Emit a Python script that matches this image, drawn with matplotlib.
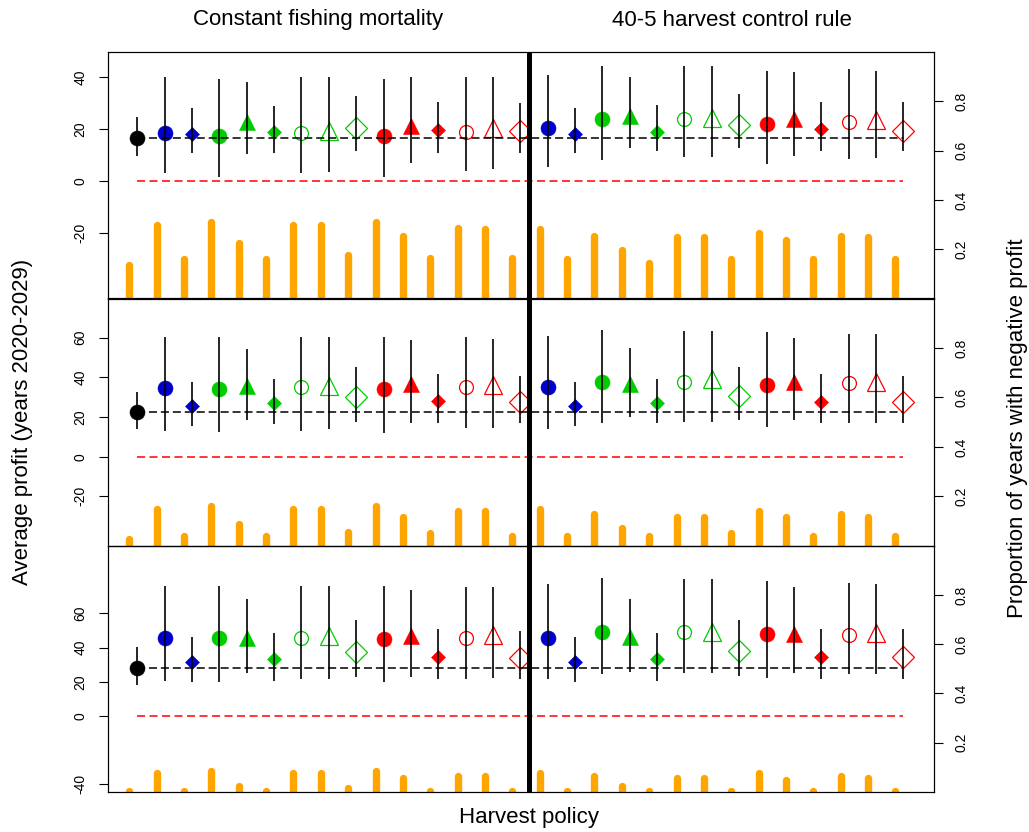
"""
Average profit and proportion of years with negative profit, by harvest policy.

Three stacked panels; left axis = average profit with interval, right axis =
proportion of years with negative profit (orange spikes).
"""

import numpy as np
import matplotlib
matplotlib.use("Agg")
import matplotlib.pyplot as plt

plt.rcParams["font.family"] = ["Liberation Sans", "DejaVu Sans"]
plt.rcParams["lines.scale_dashes"] = False

# ---- data -----------------------------------------------------------------
policy_x = np.arange(1, 30)

# colour group and symbol of each of the 29 policies
policy_group = (["k"] + ["b", "b"] + ["g"] * 6 + ["r"] * 6
                + ["b", "b"] + ["g"] * 6 + ["r"] * 6)
policy_symbol = (["o"] + ["o", "d"] + ["o", "^", "d", "oo", "^o", "Do"] * 2
                 + ["o", "d"] + ["o", "^", "d", "oo", "^o", "Do"] * 2)

mean_top = [16.8, 18.7, 18.1, 17.4, 22.9, 18.8, 18.5, 19.5, 20.4, 17.4, 21.4, 19.6, 19.1, 20.4, 19.3,
            20.4, 18.2, 23.8, 25.1, 18.8, 23.8, 24.5, 21.7, 22.0, 24.0, 20.0, 22.7, 23.6, 19.5]
lo_top = [9.8, 3.1, 11.0, 1.8, 10.5, 11.0, 3.3, 3.7, 11.8, 1.5, 7.2, 11.0, 4.1, 4.7, 11.0,
          5.4, 11.0, 8.2, 12.7, 11.8, 9.2, 9.2, 12.7, 6.5, 9.8, 11.8, 8.5, 8.8, 11.8]
hi_top = [24.8, 39.9, 28.3, 39.2, 38.1, 29.0, 39.9, 39.9, 32.9, 39.2, 39.9, 30.6, 39.9, 39.9, 30.0,
          40.9, 28.3, 44.3, 39.9, 29.3, 44.3, 44.3, 33.4, 42.5, 41.9, 30.6, 43.2, 42.5, 30.6]
neg_top = [0.136, 0.298, 0.159, 0.309, 0.226, 0.159, 0.298, 0.298, 0.176, 0.309, 0.255, 0.166, 0.287, 0.280, 0.166,
           0.280, 0.159, 0.255, 0.196, 0.146, 0.251, 0.251, 0.159, 0.267, 0.237, 0.159, 0.255, 0.251, 0.159]

mean_mid = [22.7, 34.8, 25.7, 34.1, 35.8, 26.9, 35.0, 35.6, 30.2, 34.0, 36.6, 28.1, 35.0, 36.0, 27.7,
            35.0, 25.7, 37.8, 36.5, 26.9, 37.8, 39.0, 30.6, 36.1, 37.8, 27.7, 37.0, 37.5, 27.7]
lo_mid = [13.8, 13.1, 15.6, 12.3, 18.5, 16.3, 13.1, 13.8, 17.6, 11.8, 16.8, 16.8, 14.6, 14.6, 16.8,
          13.8, 15.6, 16.8, 19.8, 16.8, 17.6, 17.6, 18.5, 14.8, 18.5, 16.8, 16.8, 16.8, 16.8]
hi_mid = [32.4, 60.1, 37.5, 60.1, 54.1, 39.1, 60.1, 60.1, 45.0, 60.1, 58.8, 41.5, 60.1, 59.3, 40.7,
          60.8, 37.5, 63.8, 54.9, 39.1, 63.3, 63.3, 45.3, 62.7, 59.6, 41.5, 61.8, 61.8, 40.7]
neg_mid = [0.027, 0.148, 0.040, 0.162, 0.089, 0.040, 0.148, 0.148, 0.058, 0.162, 0.119, 0.054, 0.143, 0.143, 0.040,
           0.148, 0.040, 0.129, 0.071, 0.040, 0.119, 0.119, 0.054, 0.143, 0.115, 0.040, 0.129, 0.119, 0.040]

mean_bot = [28.3, 45.8, 31.8, 45.8, 45.4, 33.1, 45.8, 46.8, 37.6, 44.8, 46.8, 34.7, 45.8, 47.2, 34.1,
            45.8, 31.8, 48.9, 46.4, 33.1, 48.9, 49.3, 38.2, 47.8, 48.0, 34.7, 47.4, 48.4, 34.7]
lo_bot = [18.1, 20.5, 19.7, 19.7, 25.0, 20.5, 21.4, 21.4, 23.0, 19.7, 23.0, 21.4, 21.4, 22.4, 21.4,
          21.4, 19.7, 24.4, 25.9, 20.5, 25.3, 25.3, 23.4, 22.4, 25.3, 21.4, 24.4, 24.4, 21.4]
hi_bot = [40.5, 76.0, 46.4, 76.0, 68.2, 48.4, 76.0, 76.0, 56.1, 76.0, 73.7, 50.7, 75.3, 75.3, 49.9,
          77.0, 46.4, 80.5, 68.2, 48.4, 79.9, 79.9, 56.1, 78.9, 75.3, 50.7, 78.0, 77.0, 50.7]
neg_bot = [0.004, 0.077, 0.004, 0.085, 0.023, 0.004, 0.077, 0.077, 0.016, 0.085, 0.054, 0.004, 0.065, 0.065, 0.004,
           0.077, 0.004, 0.065, 0.023, 0.004, 0.054, 0.054, 0.004, 0.077, 0.047, 0.004, 0.065, 0.054, 0.004]

profit_ticks = [[-20, 0, 20, 40], [-20, 0, 20, 40, 60], [-40, 0, 20, 40, 60]]
prop_ticks = [0.2, 0.4, 0.6, 0.8]

# ---- styling -----------------------------------------------------------------
COLORS = {"k": "black", "b": "#0000CD", "g": "#00CD00", "r": "#FF0000"}
SYMBOLS = {
    "o": dict(marker="o", ms=10.8, filled=True),
    "d": dict(marker="D", ms=7.1, filled=True),
    "^": dict(marker="^", ms=11.5, filled=True),
    "oo": dict(marker="o", ms=10.0, filled=False),
    "^o": dict(marker="^", ms=13.5, filled=False),
    "Do": dict(marker="D", ms=10.7, filled=False),
}
PANELS = [  # (bottom, height) in figure fraction, profit ylim
    ((0.6412, 0.2963), (-45.1, 49.7)),
    ((0.3438, 0.2975), (-45.0, 79.7)),
    ((0.0484, 0.2953), (-44.3, 99.4)),
]
LEFT, WIDTH = 0.1052, 0.8025
XLIM = (-0.06, 30.12)
SPLIT_X = 15.32
TITLE_SIZE = 16


def _panel(fig, box, ylim, mean, lo, hi, neg, yticks):
    ax = fig.add_axes([LEFT, box[0], WIDTH, box[1]])
    ax2 = ax.twinx()

    # proportion of years with negative profit
    ax2.vlines(policy_x - 0.29, 0, neg, color="#FFA500", lw=5.3,
               capstyle="round", zorder=1)
    ax2.set_ylim(0, 1)
    ax2.set_yticks(prop_ticks)
    ax2.set_yticklabels([f"{t:.1f}" for t in prop_ticks], rotation=90, va="center")

    for xi, m, g, s in zip(policy_x, mean, policy_group, policy_symbol):
        st = SYMBOLS[s]
        c = COLORS[g]
        ax2.plot(xi, m, transform=ax.transData, marker=st["marker"], ms=st["ms"],
                 mfc=c if st["filled"] else "none", mec=c,
                 mew=0.4 if st["filled"] else 0.9, ls="none", zorder=2)

    ax2.vlines(policy_x, lo, hi, color="black", lw=1.2, zorder=3,
               transform=ax.transData)
    ax2.plot([policy_x[0], policy_x[-1]], [mean[0], mean[0]], color="black",
             lw=1.1, ls=(0, (5.8, 2.8)), zorder=3, transform=ax.transData)
    ax2.plot([policy_x[0], policy_x[-1]], [0, 0], color="red",
             lw=1.1, ls=(0, (5.8, 3.2)), zorder=3, transform=ax.transData)
    ax.axvline(SPLIT_X, color="black", lw=3.6, zorder=4)

    ax.set_xlim(*XLIM)
    ax.set_ylim(*ylim)
    ax.set_xticks([])
    ax.set_yticks(yticks)
    ax.set_yticklabels([str(t) for t in yticks], rotation=90, va="center")

    for a in (ax, ax2):
        a.tick_params(axis="y", direction="out", length=6.5, width=0.8,
                      labelsize=10, pad=8.5)
        for sp in a.spines.values():
            sp.set_linewidth(0.8)
            sp.set_color("black")
    ax.set_zorder(ax2.get_zorder() + 1)
    ax.patch.set_visible(False)
    return ax, ax2


def main():
    fig = plt.figure(figsize=(10.29, 8.32), dpi=100)
    series = [(mean_top, lo_top, hi_top, neg_top),
              (mean_mid, lo_mid, hi_mid, neg_mid),
              (mean_bot, lo_bot, hi_bot, neg_bot)]
    for (box, ylim), (m, lo, hi, neg), yt in zip(PANELS, series, profit_ticks):
        _panel(fig, box, ylim, m, lo, hi, neg, yt)

    fig.text(318.5 / 1029, 1 - 20 / 832, "Constant fishing mortality",
             ha="center", va="center", fontsize=TITLE_SIZE)
    fig.text(731.5 / 1029, 1 - 20 / 832, "40-5 harvest control rule",
             ha="center", va="center", fontsize=TITLE_SIZE)
    fig.text(529 / 1029, 1 - 818 / 832, "Harvest policy",
             ha="center", va="center", fontsize=TITLE_SIZE)
    fig.text(23 / 1029, 1 - 422 / 832, "Average profit (years 2020-2029)",
             ha="center", va="center", rotation=90, fontsize=TITLE_SIZE)
    fig.text(1017 / 1029, 1 - 428 / 832, "Proportion of years with negative profit",
             ha="center", va="center", rotation=90, fontsize=TITLE_SIZE)

    fig.savefig("out.png", dpi=100)


if __name__ == "__main__":
    main()
